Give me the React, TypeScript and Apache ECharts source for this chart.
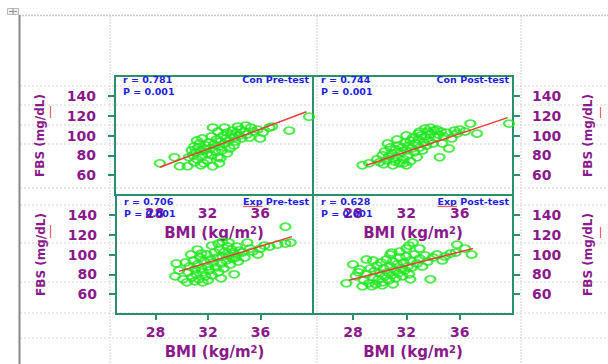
import React, { useEffect, useRef } from 'react';
import * as echarts from 'echarts';

// ---- data ----
const xTicks = [28, 32, 36];
const yTicks = [60, 80, 100, 120, 140];
const panelNames = ['Con Pre-test', 'Con Post-test', 'Exp Pre-test', 'Exp Post-test'];
const rValues = ['0.781', '0.744', '0.706', '0.628'];
const pValues = ['0.001', '0.001', '0.001', '0.001'];

const conPre = [
  [28.4, 72], [29.5, 78], [29.9, 69], [30.5, 69], [31.0, 89], [31.1, 83], [31.7, 72], [32.4, 69], [31.6, 97], [32.3, 99],
  [32.4, 108], [33.3, 108], [34.3, 109], [35.3, 108], [36.7, 108], [35.2, 98], [36.0, 97], [38.2, 105], [39.7, 119], [33.7, 87],
  [33.0, 77], [30.8, 85], [30.9, 80], [31.2, 76], [31.3, 88], [31.4, 92], [31.5, 84], [31.6, 79], [31.8, 86], [31.9, 90],
  [32.0, 82], [32.0, 75], [32.1, 93], [32.2, 87], [32.3, 80], [32.5, 91], [32.6, 84], [32.7, 96], [32.8, 78], [32.9, 89],
  [33.0, 94], [33.1, 85], [33.2, 100], [33.3, 92], [33.4, 97], [33.5, 103], [33.6, 95], [33.8, 101], [33.9, 105], [34.0, 98],
  [34.1, 94], [34.2, 103], [34.4, 100], [34.5, 106], [34.6, 97], [34.8, 104], [35.0, 101], [35.5, 104], [35.8, 106], [36.2, 103],
  [30.6, 78], [31.0, 73], [31.5, 70], [32.9, 72], [33.5, 82], [34.0, 90], [31.2, 95], [32.8, 104], [34.9, 110], [36.9, 109],
];
const conPost = [
  [28.7, 70], [29.2, 72], [30.2, 80], [30.8, 88], [31.0, 70], [32.0, 70], [32.3, 95], [32.9, 102], [33.4, 107], [34.3, 106],
  [34.5, 78], [35.2, 87], [35.4, 97], [35.8, 102], [36.8, 112], [37.3, 102], [39.7, 112], [29.8, 76], [30.0, 73], [30.4, 84],
  [30.5, 75], [30.7, 79], [30.9, 82], [31.1, 74], [31.2, 86], [31.3, 78], [31.4, 90], [31.5, 72], [31.6, 83], [31.7, 88],
  [31.8, 76], [31.9, 93], [32.0, 85], [32.1, 80], [32.2, 90], [32.3, 74], [32.4, 87], [32.5, 98], [32.6, 83], [32.7, 92],
  [32.8, 78], [32.9, 96], [33.0, 88], [33.1, 100], [33.2, 85], [33.3, 93], [33.4, 99], [33.5, 90], [33.6, 104], [33.7, 95],
  [33.8, 101], [34.0, 92], [34.1, 105], [34.2, 98], [34.4, 101], [34.6, 104], [34.8, 99], [35.0, 103], [35.6, 105], [36.0, 106],
  [36.4, 104], [30.6, 92], [31.3, 96], [32.0, 100], [33.0, 104], [33.8, 108], [34.7, 92], [31.0, 77], [30.3, 71], [31.8, 72],
];
const expPre = [
  [29.6, 91], [29.5, 78], [30.1, 75], [30.4, 72], [30.7, 100], [31.6, 72], [32.3, 109], [33.1, 113], [34.0, 80], [35.0, 112],
  [34.6, 102], [35.4, 103], [35.8, 100], [36.7, 108], [37.3, 110], [37.9, 128], [37.9, 111], [38.3, 112], [30.5, 82], [30.6, 88],
  [30.8, 77], [30.9, 94], [31.0, 85], [31.1, 80], [31.2, 90], [31.3, 75], [31.4, 97], [31.5, 86], [31.6, 82], [31.7, 93],
  [31.8, 78], [31.9, 100], [32.0, 88], [32.1, 84], [32.2, 95], [32.3, 79], [32.4, 92], [32.5, 102], [32.6, 87], [32.7, 97],
  [32.8, 82], [32.9, 105], [33.0, 91], [33.1, 98], [33.2, 86], [33.3, 103], [33.4, 94], [33.5, 108], [33.6, 99], [33.7, 90],
  [33.8, 105], [33.9, 96], [34.0, 101], [34.2, 108], [34.3, 93], [34.4, 104], [34.8, 97], [35.2, 106], [36.0, 106], [36.3, 109],
  [30.3, 92], [31.2, 105], [32.0, 74], [33.0, 76], [31.5, 101], [32.8, 111], [33.6, 112], [34.1, 97], [29.8, 84], [31.0, 73],
];
const expPost = [
  [27.5, 71], [28.2, 78], [28.0, 90], [28.7, 68], [28.5, 85], [29.5, 94], [30.8, 100], [30.9, 102], [32.0, 106], [32.5, 112],
  [33.0, 106], [33.8, 75], [34.7, 94], [35.7, 102], [35.8, 110], [36.4, 106], [36.9, 100], [28.8, 74], [29.0, 80], [29.2, 71],
  [29.3, 86], [29.5, 77], [29.6, 83], [29.7, 70], [29.8, 89], [29.9, 75], [30.0, 81], [30.1, 92], [30.2, 72], [30.3, 86],
  [30.4, 78], [30.5, 95], [30.6, 82], [30.7, 74], [30.8, 88], [30.9, 79], [31.0, 93], [31.1, 84], [31.2, 76], [31.3, 90],
  [31.4, 81], [31.5, 97], [31.6, 86], [31.7, 78], [31.8, 92], [31.9, 84], [32.0, 98], [32.1, 88], [32.2, 80], [32.3, 94],
  [32.4, 87], [32.6, 100], [32.8, 91], [33.0, 96], [33.2, 88], [33.4, 99], [33.6, 93], [34.0, 97], [34.3, 100], [34.9, 98],
  [35.3, 101], [29.0, 95], [29.4, 68], [30.2, 69], [31.0, 70], [32.3, 75], [31.5, 103], [32.2, 109], [28.4, 82],
];

const conPreFit = [[28.4, 68], [39.5, 124]];
const conPostFit = [[29.0, 70], [39.6, 118]];
const expPreFit = [[29.8, 83], [38.4, 118]];
const expPostFit = [[27.7, 74], [37.0, 106]];

const panelPoints = [conPre, conPost, expPre, expPost];
const panelFits = [conPreFit, conPostFit, expPreFit, expPostFit];

// ---- style / layout ----
const FONT = '"DejaVu Sans", Verdana, sans-serif';
const PURPLE = '#8a1a8c';
const TEAL = '#2a8f6c';
const BLUE = '#1e1ee0';
const GREEN = '#22e622';
const RED = '#f03a3a';
const ANN_SIZE = 9.5;

const grids = [
  { left: 115, top: 76, width: 198, height: 119 },
  { left: 313, top: 76, width: 200, height: 119 },
  { left: 116, top: 195, width: 197, height: 119 },
  { left: 313, top: 195, width: 200, height: 119 },
];

function measure(text: string, font: string): number {
  const c = document.createElement('canvas').getContext('2d');
  if (!c) return text.length * 6;
  c.font = font;
  return c.measureText(text).width;
}

export default function App() {
  const ref = useRef<HTMLDivElement>(null);
  useEffect(() => {
    if (!ref.current) return;
    const chart = echarts.init(ref.current, undefined, { renderer: 'svg' });

    const labelStyle = { color: PURPLE, fontSize: 14, fontWeight: 'bold', fontFamily: FONT };

    const xAxis = grids.map((g, i) => ({
      gridIndex: i,
      type: 'value',
      min: 25,
      max: 40,
      axisLine: { show: true, lineStyle: { color: TEAL, width: 2 } },
      axisTick: { show: i >= 2, customValues: xTicks, length: 6, lineStyle: { color: TEAL, width: 2 } },
      axisLabel: { customValues: xTicks, margin: 11, ...labelStyle },
      splitLine: { show: false },
      name: 'BMI (kg/m{sup|2})',
      nameLocation: 'middle',
      nameGap: 30,
      nameTextStyle: {
        ...labelStyle,
        fontSize: 15,
        rich: { sup: { color: PURPLE, fontSize: 10, fontWeight: 'bold', fontFamily: FONT, verticalAlign: 'top' } },
      },
    }));

    const yAxis = grids.map((g, i) => ({
      gridIndex: i,
      type: 'value',
      min: 40,
      max: 160,
      position: i % 2 === 1 ? 'right' : 'left',
      axisLine: { show: true, lineStyle: { color: TEAL, width: 2 } },
      axisTick: { show: true, customValues: yTicks, length: 7, lineStyle: { color: TEAL, width: 2 } },
      axisLabel: { customValues: yTicks, margin: 19, ...labelStyle },
      splitLine: { show: false },
      name: 'FBS (mg/dL)',
      nameLocation: 'middle',
      nameRotate: 90,
      nameGap: 69,
      nameTextStyle: { ...labelStyle, fontSize: 12 },
    }));

    const series: any[] = [];
    panelPoints.forEach((pts, i) => {
      series.push({
        type: 'scatter',
        xAxisIndex: i,
        yAxisIndex: i,
        data: pts,
        symbol: 'circle',
        symbolSize: [10, 7],
        itemStyle: { color: 'transparent', borderColor: GREEN, borderWidth: 2 },
        z: 3,
      });
      series.push({
        type: 'line',
        xAxisIndex: i,
        yAxisIndex: i,
        data: panelFits[i],
        showSymbol: false,
        symbol: 'none',
        lineStyle: { color: RED, width: 1.5 },
        z: 4,
      });
    });

    const graphic: any[] = [];
    // page grid lines
    const hLines = [86, 105, 125, 144, 188, 205, 243, 282, 313, 338];
    hLines.forEach((y) =>
      graphic.push({
        type: 'line', z: -10, silent: true,
        shape: { x1: 20, y1: y, x2: 608, y2: y },
        style: { stroke: '#d6d6d6', lineWidth: 1, lineDash: [2, 2] },
      })
    );
    [110, 317, 521].forEach((x) =>
      graphic.push({
        type: 'line', z: -10, silent: true,
        shape: { x1: x, y1: 16, x2: x, y2: 364 },
        style: { stroke: '#d3d3d3', lineWidth: 1, lineDash: [2, 1] },
      })
    );
    graphic.push({
      type: 'line', z: -10, silent: true,
      shape: { x1: 19, y1: 15.5, x2: 608, y2: 15.5 },
      style: { stroke: '#c8c8c8', lineWidth: 1.5, lineDash: [2, 1] },
    });
    graphic.push({
      type: 'line', z: -10, silent: true,
      shape: { x1: 19.5, y1: 15, x2: 19.5, y2: 364 },
      style: { stroke: '#8a8a8a', lineWidth: 2 },
    });
    // move handle icon
    graphic.push({
      type: 'rect', silent: true,
      shape: { x: 7.5, y: 8.5, width: 11, height: 6 },
      style: { fill: '#f0f0f0', stroke: '#b8b8b8', lineWidth: 1 },
    });
    graphic.push({
      type: 'line', silent: true,
      shape: { x1: 13, y1: 8.5, x2: 13, y2: 14.5 },
      style: { stroke: '#909090', lineWidth: 1 },
    });
    graphic.push({
      type: 'line', silent: true,
      shape: { x1: 9, y1: 11.5, x2: 17, y2: 11.5 },
      style: { stroke: '#909090', lineWidth: 1 },
    });

    // annotations
    const annFont = `bold ${ANN_SIZE}px ${FONT}`;
    grids.forEach((g, i) => {
      const top = i < 2 ? g.top + 3 : g.top + 6;
      const base = { fill: BLUE, fontSize: ANN_SIZE, fontWeight: 'bold', fontFamily: FONT };
      graphic.push({
        type: 'text', z: 20, silent: true, x: g.left + 8, y: top,
        style: { ...base, text: 'r = ' + rValues[i], textAlign: 'left', textVerticalAlign: 'middle', align: 'left', verticalAlign: 'middle' },
      });
      graphic.push({
        type: 'text', z: 20, silent: true, x: g.left + 8, y: top + 12,
        style: { ...base, text: 'P = ' + pValues[i], textAlign: 'left', textVerticalAlign: 'middle', align: 'left', verticalAlign: 'middle' },
      });
      const rightX = g.left + g.width - 4;
      graphic.push({
        type: 'text', z: 20, silent: true, x: rightX, y: top,
        style: { ...base, text: panelNames[i], textAlign: 'right', textVerticalAlign: 'middle', align: 'right', verticalAlign: 'middle' },
      });
      if (i >= 2) {
        // red spell-check underline beneath the first word
        const fullW = measure(panelNames[i], annFont);
        const firstW = measure(panelNames[i].split(' ')[0], annFont);
        const x1 = rightX - fullW;
        graphic.push({
          type: 'line', z: 25, silent: true,
          shape: { x1, y1: top + 5.5, x2: x1 + firstW, y2: top + 5.5 },
          style: { stroke: '#f06060', lineWidth: 1.2 },
        });
      }
    });
    // red spell-check marks beside the rotated axis names
    const redMarks = [
      [50.5, 106, 50.5, 118],
      [50.5, 225, 50.5, 238],
      [600.5, 107, 600.5, 118],
      [600.5, 227, 600.5, 238],
    ];
    redMarks.forEach(([x1, y1, x2, y2]) =>
      graphic.push({
        type: 'line', z: 25, silent: true,
        shape: { x1, y1, x2, y2 },
        style: { stroke: '#f06060', lineWidth: 1.2 },
      })
    );

    chart.setOption({
      animation: false,
      backgroundColor: '#ffffff',
      grid: grids.map((g) => ({
        ...g,
        show: true,
        backgroundColor: 'transparent',
        borderColor: TEAL,
        borderWidth: 2,
        containLabel: false,
      })),
      xAxis,
      yAxis,
      series,
      graphic,
    });
    return () => chart.dispose();
  }, []);
  return <div ref={ref} style={{ position: 'fixed', left: 0, top: 0, width: 608, height: 364 }} />;
}
